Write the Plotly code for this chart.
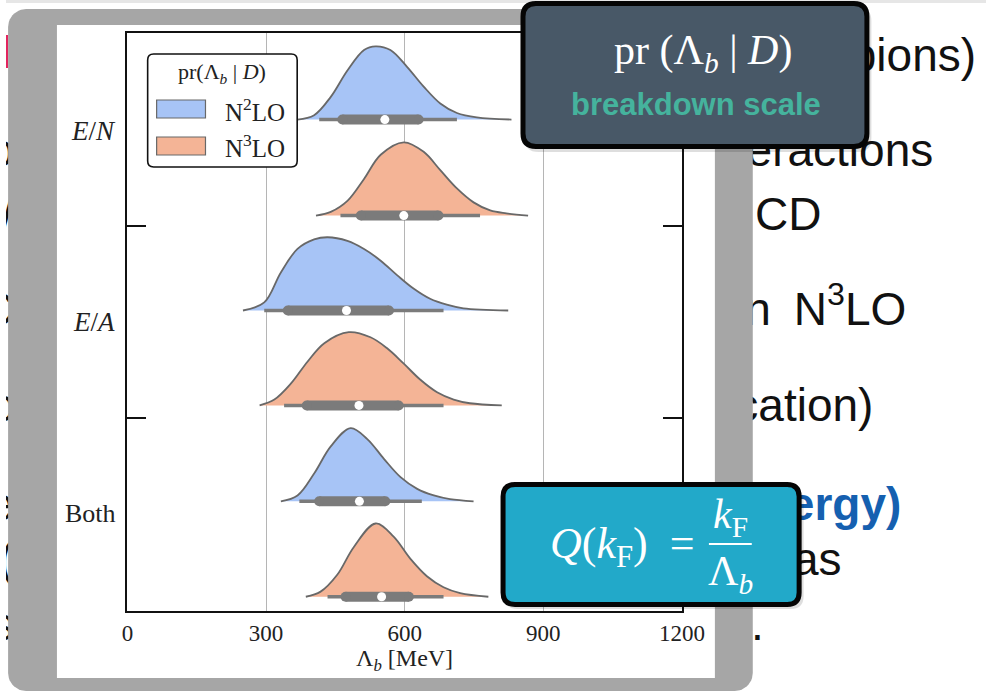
import numpy as np
import plotly.graph_objects as go

# ---------------- data ----------------
groups = ["E/N", "E/A", "Both"]
orders = ["N²LO", "N³LO"]
x_ticks = [0, 300, 600, 900, 1200]

# posterior density curves: Lambda_b [MeV] and relative height
EN_N2LO_lam = [368, 404, 440, 476, 512, 537, 569, 605, 641, 677, 713, 756, 831]
EN_N2LO_pdf = [0, .06, .31, .67, .95, 1.0, .95, .72, .45, .22, .09, .03, 0]
EN_N3LO_lam = [408, 440, 476, 512, 548, 598, 641, 677, 713, 749, 785, 820, 867]
EN_N3LO_pdf = [0, .05, .20, .50, .83, 1.0, .87, .62, .37, .18, .07, .03, 0]
EA_N2LO_lam = [250, 296, 332, 368, 404, 433, 476, 512, 548, 584, 619, 655, 691, 727, 824]
EA_N2LO_pdf = [0, .11, .52, .84, .97, 1.0, .95, .84, .68, .48, .30, .16, .08, .03, 0]
EA_N3LO_lam = [286, 318, 354, 390, 426, 479, 526, 562, 598, 634, 670, 706, 741, 810]
EA_N3LO_pdf = [0, .08, .30, .60, .85, 1.0, .93, .78, .57, .35, .18, .08, .03, 0]
BO_N2LO_lam = [332, 368, 404, 440, 483, 519, 555, 591, 627, 663, 698, 749]
BO_N2LO_pdf = [0, .08, .38, .75, 1.0, .85, .58, .33, .17, .08, .03, 0]
BO_N3LO_lam = [386, 418, 454, 490, 537, 576, 612, 648, 684, 720, 781]
BO_N3LO_pdf = [0, .07, .30, .68, 1.0, .82, .52, .28, .13, .05, 0]

# inner box summaries: [whisker lo, box lo, median, box hi, whisker hi]
EN_N2LO_box = [415, 465, 557, 630, 713]
EN_N3LO_box = [461, 505, 598, 673, 763]
EA_N2LO_box = [296, 347, 474, 566, 684]
EA_N3LO_box = [339, 388, 501, 587, 684]
BO_N2LO_box = [372, 415, 502, 558, 637]
BO_N3LO_box = [433, 472, 550, 609, 684]

violins = [
    (EN_N2LO_lam, EN_N2LO_pdf, EN_N2LO_box, 0),
    (EN_N3LO_lam, EN_N3LO_pdf, EN_N3LO_box, 1),
    (EA_N2LO_lam, EA_N2LO_pdf, EA_N2LO_box, 0),
    (EA_N3LO_lam, EA_N3LO_pdf, EA_N3LO_box, 1),
    (BO_N2LO_lam, BO_N2LO_pdf, BO_N2LO_box, 0),
    (BO_N3LO_lam, BO_N3LO_pdf, BO_N3LO_box, 1),
]

# ---------------- layout constants ----------------
W, H = 986, 693          # design coordinates (reference pixels)
FIG_W = 1010             # rendered width (the capture is squeezed to 986)
XA = 3.9                 # design x shown at the figure's left edge
XB = XA + FIG_W * 986 / 1012
base_pos = [0.896, 1.893, 2.879, 3.865, 4.861, 5.852]
peak_h = 0.761
fill_cols = ["#a7c4f6", "#f4b496"]
edge_col = "#686868"
box_col = "#7b7b7b"
SERIF = "Liberation Serif"
SANS = "Liberation Sans"

fig = go.Figure()


def rrect_pts(x0, y0, x1, y1, r, n=12):
    xs, ys = [], []
    for cx, cy, a0 in [(x1 - r, y0 + r, -90), (x1 - r, y1 - r, 0),
                       (x0 + r, y1 - r, 90), (x0 + r, y0 + r, 180)]:
        t = np.radians(np.linspace(a0, a0 + 90, n))
        xs += list(cx + r * np.cos(t))
        ys += list(cy + r * np.sin(t))
    xs.append(xs[0]); ys.append(ys[0])
    return xs, ys


def rr_path(x0, y0, x1, y1, r):
    return (f"M{x0+r},{y0} L{x1-r},{y0} Q{x1},{y0} {x1},{y0+r} L{x1},{y1-r} "
            f"Q{x1},{y1} {x1-r},{y1} L{x0+r},{y1} Q{x0},{y1} {x0},{y1-r} "
            f"L{x0},{y0+r} Q{x0},{y0} {x0+r},{y0} Z")


# ---------- background slide text (under the grey panel) ----------
slide_lines = [
    ("(no pions)", 977, 59, "#111", False),
    ("interactions", 934, 154, "#111", False),
    ("CD", 822, 218, "#111", False),
    ("N<sup>3</sup>LO", 907, 313, "#111", False),
    ("in", 771, 313, "#111", False),
    ("(application)", 874, 409, "#111", False),
    ("(binding energy)", 902, 508, "#1560b0", True),
    ("treated as", 842, 563, "#111", False),
    ("values.", 764, 628, "#111", False),
    ("o", 12, 154, "#111", False),
    ("W", 12, 218, "#111", False),
    ("C", 12, 313, "#111", False),
    ("c", 12, 409, "#111", False),
    ("e", 12, 508, "#111", False),
    ("(", 12, 563, "#111", False),
    ("s", 12, 628, "#111", False),
]
for txt, xr, yc, col, bold in slide_lines:
    fig.add_trace(go.Scatter(
        x=[xr], y=[yc], mode="text", text=[f"<b>{txt}</b>" if bold else txt],
        textposition="middle left",
        textfont=dict(family=SANS, size=46, color=col),
        xaxis="x", yaxis="y", hoverinfo="skip", showlegend=False))

# grey panel and white figure card
gx, gy = rrect_pts(6, 9, 753, 691, 18)
fig.add_trace(go.Scatter(x=gx, y=gy, mode="lines", fill="toself",
                         fillcolor="#a6a6a6", line=dict(width=0),
                         xaxis="x", yaxis="y", hoverinfo="skip", showlegend=False))
fig.add_trace(go.Scatter(x=[55, 715, 715, 55, 55], y=[25, 25, 678, 678, 25],
                         mode="lines", fill="toself", fillcolor="white",
                         line=dict(width=0), xaxis="x", yaxis="y",
                         hoverinfo="skip", showlegend=False))

# ---------------- violins ----------------
for i, (lam, pdf, box, o) in enumerate(violins):
    b = base_pos[i]
    yy = [b - p * peak_h for p in pdf]
    fig.add_trace(go.Scatter(x=lam, y=yy, mode="lines", fill="toself",
                             fillcolor=fill_cols[o], line=dict(width=0, shape="spline"),
                             xaxis="x2", yaxis="y2", hoverinfo="skip", showlegend=False))
    fig.add_trace(go.Scatter(x=lam, y=yy, mode="lines",
                             line=dict(width=1.8, color=edge_col, shape="spline"),
                             xaxis="x2", yaxis="y2", hoverinfo="skip", showlegend=False))
    fig.add_trace(go.Scatter(x=[box[0], box[4]], y=[b, b], mode="lines",
                             line=dict(width=3.5, color=box_col),
                             xaxis="x2", yaxis="y2", hoverinfo="skip", showlegend=False))
    fig.add_trace(go.Scatter(x=[box[1], box[3]], y=[b, b], mode="lines+markers",
                             line=dict(width=10, color=box_col),
                             marker=dict(size=10, color=box_col, line=dict(width=0)),
                             xaxis="x2", yaxis="y2", hoverinfo="skip", showlegend=False))
    fig.add_trace(go.Scatter(x=[box[2]], y=[b], mode="markers",
                             marker=dict(size=9, color="white", line=dict(width=0)),
                             xaxis="x2", yaxis="y2", hoverinfo="skip", showlegend=False))

# ---------------- shapes ----------------
shapes = []
shapes.append(dict(type="rect", xref="x", yref="y", x0=0, x1=W + 10, y0=0, y1=3,
                   fillcolor="#e6e6e6", line=dict(width=0), layer="below"))
shapes.append(dict(type="rect", xref="x", yref="y", x0=0, x1=6, y0=35, y1=68,
                   fillcolor="#e2245e", line=dict(width=0), layer="below"))
# legend
shapes.append(dict(type="path", xref="x", yref="y", path=rr_path(146, 54, 296, 167, 6),
                   fillcolor="white", line=dict(color="#111", width=1.6), layer="above"))
shapes.append(dict(type="rect", xref="x", yref="y", x0=155, x1=204, y0=100, y1=118,
                   fillcolor=fill_cols[0], line=dict(color=edge_col, width=1.2), layer="above"))
shapes.append(dict(type="rect", xref="x", yref="y", x0=155, x1=204, y0=137, y1=155,
                   fillcolor=fill_cols[1], line=dict(color=edge_col, width=1.2), layer="above"))
# dark call-out box (soft shadow + box)
shapes.append(dict(type="path", xref="x", yref="y", path=rr_path(524, 7, 872, 152, 14),
                   fillcolor="rgba(0,0,0,0.13)", line=dict(width=0), layer="above"))
shapes.append(dict(type="path", xref="x", yref="y", path=rr_path(522.5, 3.5, 867.5, 146.5, 13),
                   fillcolor="#485867", line=dict(color="#050505", width=5), layer="above"))
# cyan call-out box (soft shadow + box)
shapes.append(dict(type="path", xref="x", yref="y", path=rr_path(504, 488, 804, 609, 13),
                   fillcolor="rgba(0,0,0,0.13)", line=dict(width=0), layer="above"))
shapes.append(dict(type="path", xref="x", yref="y", path=rr_path(502.5, 484.5, 799.5, 604.5, 12),
                   fillcolor="#22a9c9", line=dict(color="#050505", width=5), layer="above"))
shapes.append(dict(type="line", xref="x", yref="y", x0=709, x1=752, y0=544, y1=544,
                   line=dict(color="white", width=2), layer="above"))

# ---------------- annotations ----------------
ann = []
def A(text, x, y, size, color="#222", family=SERIF, xanchor="center"):
    ann.append(dict(text=text, x=x, y=y, xref="x", yref="y", showarrow=False,
                    xanchor=xanchor, yanchor="middle",
                    font=dict(family=family, size=size, color=color)))

A("<i>E</i>/<i>N</i>", 92, 131, 27)
A("<i>E</i>/<i>A</i>", 92, 322, 27)
A(groups[2], 89, 513, 26)
A("Λ<sub><i>b</i></sub> [MeV]", 404, 660, 24)
A("pr(Λ<sub><i>b</i></sub> | <i>D</i>)", 221, 73, 22)
A(orders[0].replace("²", "<sup>2</sup>"), 222, 110, 25, xanchor="left")
A(orders[1].replace("³", "<sup>3</sup>"), 222, 146, 25, xanchor="left")
A("pr (Λ<sub><i>b</i></sub> | <i>D</i>)", 703, 53, 42, color="white")
A("<b>breakdown scale</b>", 696, 104, 31, color="#45b39d", family=SANS)
A("<i>Q</i>(<i>k</i><sub>F</sub>)\u00a0 =", 622, 546, 44, color="white")
A("<i>k</i><sub>F</sub>", 731, 517, 42, color="white")
A("Λ<sub><i>b</i></sub>", 731, 574, 42, color="white")

# ---------------- layout ----------------
px0, px1, py0, py1 = 125.7, 682.0, 33.3, 611.0
fx = lambda v: (v - XA) / (XB - XA)
fig.update_layout(
    width=FIG_W, height=H, margin=dict(l=0, r=0, t=0, b=0),
    paper_bgcolor="white", plot_bgcolor="rgba(0,0,0,0)", showlegend=False,
    xaxis=dict(domain=[0, 1], range=[XA, XB], visible=False, fixedrange=True),
    yaxis=dict(domain=[0, 1], range=[H, 0], visible=False, fixedrange=True),
    xaxis2=dict(domain=[fx(px0), fx(px1)], anchor="y2", range=[0, 1200],
                tickvals=x_ticks, ticktext=[str(t) for t in x_ticks],
                tickfont=dict(family=SERIF, size=23, color="#222"),
                ticks="", ticklabelstandoff=0,
                showgrid=True, gridcolor="#b5b5b5", gridwidth=1.2,
                showline=True, mirror=True, linecolor="#111", linewidth=1.8,
                zeroline=False, fixedrange=True),
    yaxis2=dict(domain=[1 - py1 / H, 1 - py0 / H], anchor="x2", range=[6, 0],
                tickvals=[2, 4], ticks="inside", ticklen=19, tickwidth=1.8,
                tickcolor="#111", showticklabels=False, showgrid=False,
                showline=True, mirror="ticks", linecolor="#111", linewidth=1.8,
                zeroline=False, fixedrange=True),
    shapes=shapes, annotations=ann,
)

fig.write_html(
    "out.html", config={"displayModeBar": False},
    post_script=("document.documentElement.style.margin='0';"
                 "document.body.style.margin='0';document.body.style.padding='0';"
                 "document.documentElement.style.overflow='hidden';"
                 "document.body.style.overflow='hidden';"))
